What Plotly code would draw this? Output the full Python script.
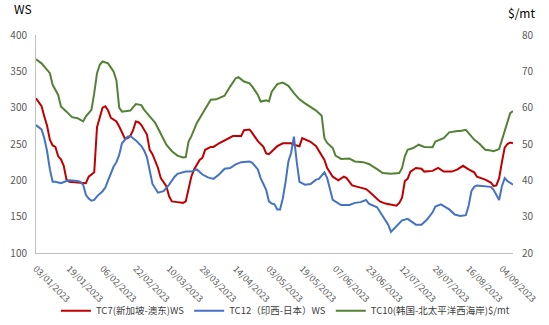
import pandas as pd
import plotly.graph_objects as go

# trading-day calendar (categories)
holidays = ["2023-04-07", "2023-05-01", "2023-06-02", "2023-06-29", "2023-08-09", "2023-09-01"]
cal = pd.bdate_range("2023-01-03", "2023-09-08", freq="C", holidays=holidays)
categories = [d.strftime("%d/%m/%Y") for d in cal]

tick_labels = ["03/01/2023", "19/01/2023", "06/02/2023", "22/02/2023", "10/03/2023",
               "28/03/2023", "14/04/2023", "03/05/2023", "19/05/2023", "07/06/2023",
               "23/06/2023", "12/07/2023", "28/07/2023", "16/08/2023", "04/09/2023"]

# TC7 (WS) -- trading-day number, value
tc7_day = [0, 2, 3, 4, 5, 6, 7, 8, 9, 10,
           11, 12, 15, 17, 18, 19, 20, 21, 22, 23,
           24, 25, 26, 27, 28, 29, 30, 32, 33, 34,
           35, 36, 37, 38, 40, 41, 42, 43, 44, 45,
           47, 48, 49, 51, 53, 54, 55, 56, 57, 59,
           60, 61, 63, 64, 66, 68, 69, 71, 73, 74,
           75, 77, 78, 80, 82, 83, 84, 86, 87, 89,
           92, 93, 95, 96, 98, 99, 101, 102, 104, 105,
           107, 109, 111, 112, 114, 116, 119, 120, 122, 124,
           126, 128, 130, 131, 132, 133, 134, 135, 137, 139,
           140, 143, 145, 147, 150, 152, 154, 156, 158, 159,
           162, 164, 165, 166, 167, 168, 169, 170, 171, 172]
tc7_ws = [313, 302, 288, 275, 256, 248, 246, 233, 229, 220,
          201, 198, 197, 197, 196, 205, 208, 211, 273, 287,
          300, 302, 296, 286, 283, 281, 274, 258, 258, 261,
          269, 281, 280, 276, 263, 242, 236, 226, 217, 203,
          192, 178, 171, 170, 169, 171, 187, 205, 215, 228,
          231, 242, 246, 246, 251, 255, 257, 261, 261, 261,
          269, 270, 265, 254, 246, 237, 236, 243, 247, 251,
          251, 249, 247, 258, 255, 253, 247, 240, 228, 217,
          205, 200, 205, 203, 193, 191, 188, 185, 178, 171,
          168, 166, 165, 169, 176, 199, 202, 212, 217, 216,
          212, 213, 217, 212, 212, 215, 220, 215, 211, 205,
          201, 197, 192, 193, 203, 225, 245, 250, 252, 251]

# TC12 (WS)
tc12_day = [0, 2, 3, 4, 5, 6, 7, 9, 11, 12,
            15, 16, 17, 18, 19, 20, 21, 22, 24, 25,
            26, 27, 28, 29, 30, 31, 33, 34, 35, 36,
            38, 39, 40, 41, 42, 44, 46, 48, 49, 50,
            51, 54, 56, 58, 60, 62, 64, 66, 68, 70,
            72, 74, 77, 78, 80, 81, 82, 83, 84, 85,
            86, 87, 88, 89, 90, 91, 92, 93, 94, 95,
            97, 99, 101, 102, 104, 105, 107, 110, 113, 115,
            117, 119, 120, 123, 125, 127, 128, 130, 132, 134,
            135, 137, 139, 141, 143, 144, 146, 147, 149, 151,
            153, 155, 156, 157, 158, 159, 162, 164, 165, 166,
            167, 168, 169, 170, 172]
tc12_ws = [276, 270, 258, 240, 215, 198, 198, 196, 199, 200,
           199, 198, 194, 180, 175, 172, 173, 178, 185, 190,
           200, 210, 219, 225, 235, 251, 260, 261, 258, 255,
           247, 241, 232, 215, 195, 183, 185, 194, 200, 205,
           209, 212, 212, 215, 208, 204, 202, 208, 216, 217,
           222, 225, 226, 224, 215, 203, 195, 187, 171, 168,
           167, 160, 160, 175, 198, 226, 238, 260, 226, 198,
           194, 195, 201, 202, 211, 203, 173, 166, 166, 169,
           170, 173, 168, 163, 151, 139, 129, 137, 145, 147,
           144, 139, 139, 146, 156, 164, 167, 165, 160, 153,
           151, 152, 165, 185, 191, 193, 192, 191, 187, 180,
           173, 192, 203, 199, 194]

# TC10 ($/mt)
tc10_day = [0, 2, 5, 6, 8, 9, 11, 13, 15, 17,
            18, 20, 21, 22, 23, 24, 26, 28, 29, 30,
            31, 34, 36, 38, 39, 41, 42, 43, 45, 47,
            49, 51, 53, 54, 55, 56, 58, 60, 62, 63,
            65, 67, 68, 70, 72, 73, 75, 77, 78, 80,
            81, 83, 84, 85, 86, 87, 89, 91, 93, 95,
            97, 99, 101, 103, 104, 105, 107, 108, 110, 113,
            115, 118, 120, 123, 125, 128, 131, 132, 133, 134,
            136, 138, 140, 143, 144, 147, 149, 152, 153, 155,
            156, 158, 160, 162, 164, 165, 167, 168, 170, 171,
            172]
tc10_usd = [73.3, 72.2, 69.5, 66.3, 63.5, 60.3, 58.9, 57.4, 57.1, 56.2,
            57.6, 59.4, 64.0, 69.5, 71.8, 72.7, 72.2, 69.9, 67.5, 60.0,
            58.9, 59.2, 61.0, 60.7, 59.4, 57.4, 56.7, 55.8, 53.0, 49.8,
            48.0, 46.8, 46.3, 46.4, 50.7, 52.1, 55.8, 58.5, 61.2, 62.2,
            62.3, 63.1, 63.3, 65.8, 68.1, 68.4, 67.2, 66.7, 65.8, 63.5,
            61.7, 62.0, 61.7, 64.4, 65.4, 66.5, 66.9, 66.0, 64.0, 62.3,
            61.2, 60.1, 59.2, 57.8, 51.6, 50.3, 48.9, 46.8, 45.9, 46.0,
            45.2, 45.0, 44.5, 43.1, 42.0, 41.8, 42.0, 43.4, 46.6, 48.4,
            48.9, 49.8, 49.2, 49.1, 50.7, 51.6, 53.2, 53.6, 53.6, 53.9,
            53.0, 51.2, 50.0, 48.4, 48.2, 48.0, 48.6, 51.2, 55.8, 58.5,
            59.1]

names = ["TC7(新加坡-澳东)WS", "TC12（印西-日本）WS", "TC10(韩国-北太平洋西海岸)$/mt"]
colors = ["#C00000", "#4472C4", "#548235"]

FONT = "Noto Sans CJK SC"

fig = go.Figure()
fig.add_trace(go.Scatter(x=[categories[i] for i in tc7_day], y=tc7_ws, mode="lines",
                         name=names[0], line=dict(color=colors[0], width=2)))
fig.add_trace(go.Scatter(x=[categories[i] for i in tc12_day], y=tc12_ws, mode="lines",
                         name=names[1], line=dict(color=colors[1], width=2)))
fig.add_trace(go.Scatter(x=[categories[i] for i in tc10_day], y=tc10_usd, mode="lines",
                         name=names[2], line=dict(color=colors[2], width=2), yaxis="y2"))

fig.update_layout(
    width=549, height=325,
    margin=dict(l=36, r=36, t=35, b=72, autoexpand=False),
    paper_bgcolor="white", plot_bgcolor="white",
    font=dict(family=FONT, size=10, color="#595959"),
    showlegend=True,
    legend=dict(orientation="h", x=1.004, xanchor="right", y=-0.265, yanchor="middle",
                font=dict(size=9.5, color="#404040"), itemwidth=30, tracegroupgap=0,
                bgcolor="rgba(0,0,0,0)"),
    xaxis=dict(type="category", categoryorder="array", categoryarray=categories,
               range=[0, len(categories) - 1], automargin=False,
               tickmode="array", tickvals=tick_labels, ticktext=tick_labels,
               tickangle=45, tickfont=dict(size=9, color="#595959"),
               showgrid=False, showline=True, linecolor="#BFBFBF", linewidth=1,
               ticks="", zeroline=False, ticklabelstandoff=6),
    yaxis=dict(range=[100, 400], dtick=50, showgrid=False, showline=True, automargin=False,
               linecolor="#BFBFBF", linewidth=1, ticks="", zeroline=False,
               tickfont=dict(size=10, color="#595959"), ticklabelstandoff=6),
    yaxis2=dict(range=[20, 80], dtick=10, overlaying="y", side="right", automargin=False,
                showgrid=False, showline=False, ticks="", zeroline=False,
                tickfont=dict(size=10, color="#595959"), ticklabelstandoff=8),
    annotations=[
        dict(text="WS", xref="paper", yref="paper", x=-0.05, y=1.0, yshift=27,
             xanchor="left", yanchor="middle", showarrow=False,
             font=dict(size=12, color="#000000", family=FONT)),
        dict(text="$/mt", xref="paper", yref="paper", x=1.05, y=1.0, yshift=23,
             xanchor="right", yanchor="middle", showarrow=False,
             font=dict(size=12, color="#000000", family=FONT)),
    ],
)

fig.write_html("out.html")
